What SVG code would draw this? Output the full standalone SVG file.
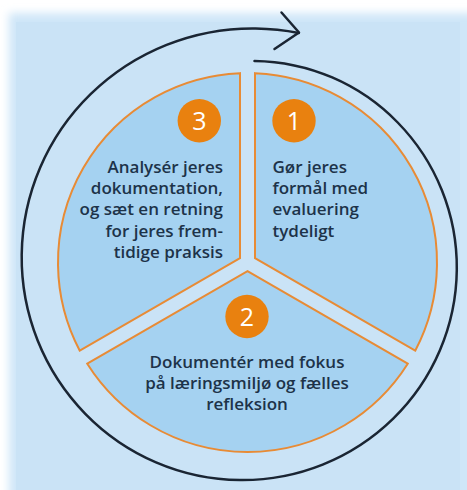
<svg xmlns="http://www.w3.org/2000/svg" width="467" height="490" viewBox="0 0 467 490">
<defs>
<filter id="soft" x="-10%" y="-10%" width="120%" height="120%"><feGaussianBlur stdDeviation="4"/></filter>
<style>
.sector{fill:#a5d2f1;stroke:#e88b35;stroke-width:2;stroke-linejoin:miter}
.badge{fill:#e9810f}
.num{font-family:"Open Sans","Liberation Sans",sans-serif;font-size:25px;font-weight:400;fill:#ffffff;text-anchor:middle}
.lbl{font-family:"Open Sans","Liberation Sans",sans-serif;font-size:17px;font-weight:600;fill:#1d3349}
.spiral{fill:none;stroke:#1a2533;stroke-width:2.5;stroke-linecap:round;stroke-linejoin:round}
</style>
</defs>
<rect x="0" y="0" width="467" height="490" fill="#ffffff"/>
<rect x="9" y="13" width="475" height="495" fill="#cfe6f8" filter="url(#soft)"/>
<rect x="16" y="22" width="444" height="475" fill="#cae3f6"/>

<g id="connectors">
<path class="spiral" d="M254.5,60.9 A203.5,203.5 0 0 1 397.7,122.5 A207.4,207.4 0 0 1 456.8,269.8 A211.5,211.5 0 0 1 393.2,418.7 A215.6,215.6 0 0 1 239.9,480.1 A219.7,219.7 0 0 1 85.3,413.8 A223.9,223.9 0 0 1 21.7,254.6 A228,228 0 0 1 90.6,94.2 A232.1,232.1 0 0 1 255.7,28.5 A234.7,234.7 0 0 1 298.8,33"/>
<path class="spiral" d="M281.5,12.5 L299,32.5 L274.5,49"/>
</g>

<g id="node-1">
<path class="sector" d="M255,258.17 L255,73.15 A189.5,189.5 0 0 1 415.23,350.68 Z"/>
<circle class="badge" cx="294" cy="120.7" r="21.7"/>
<text class="num" x="294" y="130">1</text>
<text class="lbl" x="272.5" y="172.5">Gør jeres</text>
<text class="lbl" x="272.5" y="194">formål med</text>
<text class="lbl" x="272.5" y="215.3">evaluering</text>
<text class="lbl" x="272.5" y="236.5">tydeligt</text>
</g>

<g id="node-2">
<path class="sector" d="M247.5,271.16 L407.73,363.68 A189.5,189.5 0 0 1 87.27,363.68 Z"/>
<circle class="badge" cx="247" cy="316.5" r="21.7"/>
<text class="num" x="247" y="325.8">2</text>
<text class="lbl" x="247" y="368" text-anchor="middle">Dokumentér med fokus</text>
<text class="lbl" x="247" y="389" text-anchor="middle">på læringsmiljø og fælles</text>
<text class="lbl" x="247" y="410" text-anchor="middle">refleksion</text>
</g>

<g id="node-3">
<path class="sector" d="M240,258.17 L79.77,350.68 A189.5,189.5 0 0 1 240,73.15 Z"/>
<circle class="badge" cx="199.3" cy="120.7" r="21.7"/>
<text class="num" x="199.3" y="130">3</text>
<text class="lbl" x="223" y="172.5" text-anchor="end">Analysér jeres</text>
<text class="lbl" x="223" y="194" text-anchor="end">dokumentation,</text>
<text class="lbl" x="223" y="215.3" text-anchor="end">og sæt en retning</text>
<text class="lbl" x="223" y="236.5" text-anchor="end">for jeres frem-</text>
<text class="lbl" x="223" y="257.5" text-anchor="end">tidige praksis</text>
</g>
</svg>
